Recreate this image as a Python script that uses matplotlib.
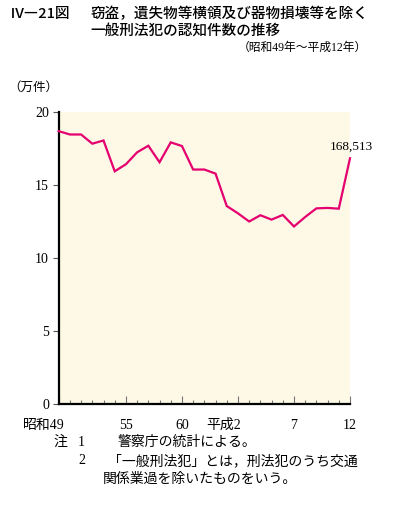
import numpy as np
import matplotlib.pyplot as plt
from matplotlib.transforms import ScaledTranslation

JP = ["Liberation Serif", "Noto Sans CJK JP", "DejaVu Sans"]
GOTHIC = ["Noto Sans CJK JP", "DejaVu Sans"]
plt.rcParams["font.family"] = JP

# 一般刑法犯（窃盗・遺失物等横領・器物損壊等を除く）認知件数（万件）
years = list(range(27))  # 昭和49年〜平成12年
counts = [18.71, 18.48, 18.48, 17.85, 18.07, 15.96, 16.44, 17.26, 17.71,
          16.58, 17.94, 17.69, 16.08, 16.08, 15.80, 13.58, 13.08, 12.52,
          12.95, 12.65, 12.97, 12.18, 12.83, 13.42, 13.45, 13.40, 16.85]
last_label = "168,513"
tick_pos = [0, 6, 11, 16, 21, 26]
tick_labels = ["昭和49", "55", "60", "平成2", "7", "12"]
y_ticks = [0, 5, 10, 15, 20]

W, H = 394, 508
fig = plt.figure(figsize=(W / 100, H / 100), dpi=100)


def fx(px):
    return px / W


def fy(py):
    return 1 - py / H


ax = fig.add_axes([fx(58.7), fy(404.3), fx(350) - fx(58.7), fy(112.3) - fy(404.3)])
ax.set_facecolor("#fdf9e6")

ax.plot(years, counts, color="#e4006e", lw=1.6, solid_joinstyle="miter", clip_on=False, zorder=3)
ax.text(years[-1] + 0.15, counts[-1] + 0.8, last_label, ha="center", va="center",
        fontsize=9.5, family=JP, clip_on=False)

ax.set_xlim(0, 26)
ax.set_ylim(0, 20)
for s in ["top", "right"]:
    ax.spines[s].set_visible(False)
ax.spines["left"].set_linewidth(1.6)
ax.spines["bottom"].set_linewidth(1.6)

ax.set_yticks(y_ticks)
ax.set_yticklabels([str(v) for v in y_ticks], fontsize=10)
ax.tick_params(axis="y", direction="out", length=4, width=0.8, color="#555555", pad=3)

ax.set_xticks(tick_pos)
ax.set_xticks(years, minor=True)
ax.set_xticklabels(tick_labels, fontsize=10)
ax.tick_params(axis="x", which="major", direction="in", length=6, width=0.8, color="#777777", pad=18)
ax.tick_params(axis="x", which="minor", direction="in", length=3, width=0.8, color="#777777")

# 数字の中心を目盛りに合わせる
shifts = {0: 6.5, 3: 3.0}
for i, lab in enumerate(ax.get_xticklabels()):
    lab.set_va("baseline")
    if i in shifts:
        lab.set_ha("right")
        lab.set_transform(lab.get_transform() + ScaledTranslation(shifts[i] / 100, 0, fig.dpi_scale_trans))

# タイトル
fig.text(fx(10), fy(14), "Ⅳ―21図", fontsize=10.5, family=GOTHIC, weight="medium", va="center")
fig.text(fx(90), fy(14), "窃盗，遺失物等横領及び器物損壊等を除く", fontsize=10.5, family=GOTHIC,
         weight="medium", va="center")
fig.text(fx(90), fy(31), "一般刑法犯の認知件数の推移", fontsize=10.5, family=GOTHIC,
         weight="medium", va="center")
fig.text(fx(367), fy(48), "（昭和49年～平成12年）", fontsize=8.5, ha="right", va="center")
fig.text(fx(8), fy(88), "（万件）", fontsize=9, va="center")

# 注
fig.text(fx(53), fy(442), "注", fontsize=10, va="center")
fig.text(fx(78), fy(442), "1", fontsize=10, va="center")
fig.text(fx(118), fy(442), "警察庁の統計による。", fontsize=10, va="center")
fig.text(fx(78), fy(461), "2", fontsize=10, va="center")
fig.text(fx(108), fy(461), "「一般刑法犯」とは，刑法犯のうち交通", fontsize=10, va="center")
fig.text(fx(103), fy(479), "関係業過を除いたものをいう。", fontsize=10, va="center")

fig.savefig("out.png", dpi=100, facecolor="white")
